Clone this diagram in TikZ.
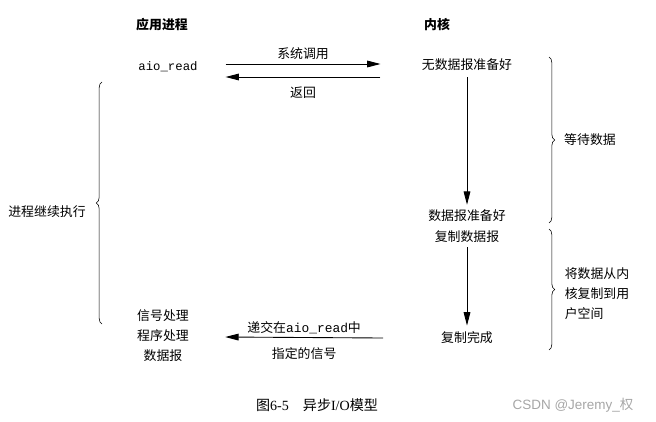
\documentclass[tikz,border=0pt]{standalone}
\usepackage{fontspec}
\setmainfont{Liberation Serif}
\setsansfont{Liberation Sans}
\setmonofont{Liberation Mono}
\newfontfamily\cjk{Noto Sans CJK SC}
\usetikzlibrary{arrows.meta,decorations.pathreplacing,positioning}

\tikzset{
    lbl/.style={font=\cjk\fontsize{11}{16}\selectfont, inner sep=1pt, align=center},
    head/.style={font=\cjk\bfseries\fontsize{11}{16}\selectfont, inner sep=1pt},
    arr/.style={-{Triangle[length=4mm,width=2mm]}, line width=0.75pt},
    brc/.style={decorate, decoration={brace, amplitude=0.17cm}, line width=0.5pt}
}

\begin{document}
\begin{tikzpicture}[x=0.03cm, y=-0.03cm]
    \useasboundingbox (0,0) rectangle (656,421);

    % headers
    \node[head] (app) at (162,25) {应用进程};
    \node[head] (kern) at (437,25) {内核};

    % left column
    \node[inner sep=1pt, font=\ttfamily\fontsize{10.5}{12}\selectfont] (aio) at (168,67) {aio\_read};
    \node[lbl, font=\cjk\fontsize{11}{17}\selectfont] (sig) at (163,336) {信号处理\\程序处理\\数据报};
    \node[lbl] (cont) at (47,212) {进程继续执行};

    % kernel column
    \node[lbl] (nodata) at (467,65) {无数据报准备好};
    \node[lbl, font=\cjk\fontsize{11}{18}\selectfont] (ready) at (467,226) {数据报准备好\\复制数据报};
    \node[lbl] (done) at (467,338) {复制完成};

    % calls
    \draw[arr] ([xshift=0.8cm,yshift=0.09cm]aio.east) -- node[lbl, above=2pt] (call) {系统调用}
        ([xshift=-1.2cm,yshift=0.03cm]nodata.west);
    \draw[arr] ([xshift=-1.2cm,yshift=-0.36cm]nodata.west) -- node[lbl, below=7pt] (ret) {返回}
        ([xshift=0.8cm,yshift=-0.3cm]aio.east);
    \draw[arr] ([xshift=-1.7cm]done.west) -- node[lbl, above=2pt] (deliv) {递交在\texttt{aio\_read}中}
        node[lbl, below=7pt] (signo) {指定的信号} ([xshift=1.05cm,yshift=-0.03cm]sig.east);

    \draw[arr, shorten <=0.15cm, shorten >=0.1cm] (nodata) -- (ready);
    \draw[arr, shorten <=0.1cm, shorten >=0.15cm] (ready) -- (done);

    % braces
    \draw[brc] (102,324) -- (102,82);
    \draw[brc] (549,57) -- (549,223);
    \draw[brc] (549,229) -- (549,350);
    \node[lbl] (wait) at (590,140) {等待数据};
    \node[lbl, align=left, font=\cjk\fontsize{11}{17}\selectfont] (copy) at (597,294) {将数据从内\\核复制到用\\户空间};

    % caption
    \node[inner sep=1pt, font=\fontsize{12}{14}\selectfont] (cap) at (317,405) {{\cjk 图}6-5\quad{\cjk 异步}I/O{\cjk 模型}};
    \node[inner sep=1pt, text=gray!70, font=\sffamily\fontsize{11.5}{13}\selectfont] (mark) at (573,405) {CSDN @Jeremy\_{\cjk 权}};
\end{tikzpicture}
\end{document}
